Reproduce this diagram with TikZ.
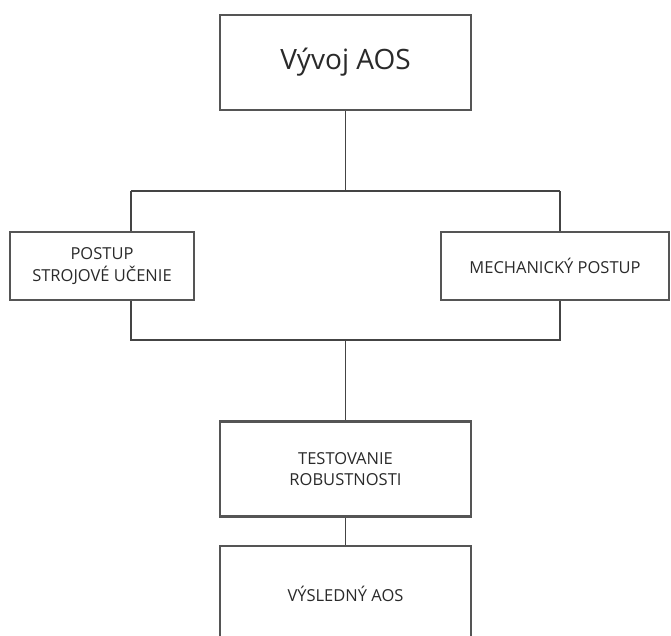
\documentclass[tikz,border=0pt]{standalone}
\usepackage{fontspec}
\setmainfont{Open Sans}
\definecolor{boxline}{HTML}{555555}
\definecolor{conn}{HTML}{444444}
\definecolor{txt}{HTML}{2A2A2A}
\begin{document}
\begin{tikzpicture}[x=1pt,y=-1pt,
  box/.style={draw=boxline,line width=2.2pt,fill=white,inner sep=0pt,align=center,text=txt},
  smalltext/.style={font=\fontsize{16.5}{21.5}\selectfont},
  link/.style={draw=conn,line width=1.6pt}]
\useasboundingbox (0,0) rectangle (671,635);
\clip (0,0) rectangle (671,635);
\fill[white] (0,0) rectangle (671,635);
\node[box,minimum width=251pt,minimum height=95pt,font=\fontsize{28}{32}\selectfont] (top) at (345.5,62.5) {Vývoj AOS};
\node[box,smalltext,minimum width=184pt,minimum height=68pt] (left) at (102,266) {POSTUP\\STROJOVÉ UČENIE};
\node[box,smalltext,minimum width=228pt,minimum height=68pt] (right) at (555,266) {MECHANICKÝ POSTUP};
\node[box,smalltext,minimum width=251pt,minimum height=95pt] (test) at (345.5,469) {TESTOVANIE\\ROBUSTNOSTI};
\node[box,smalltext,minimum width=251pt,minimum height=95pt,text depth=0pt] (res) at (345.5,593.5) {VÝSLEDNÝ AOS};
\coordinate (j1) at (345.5,191);
\coordinate (jl) at (131,191);
\coordinate (jr) at (560,191);
\coordinate (kl) at (131,340);
\coordinate (kr) at (560,340);
\coordinate (k1) at (345.5,340);
\draw[link] (top.south) -- (j1);
\draw[link] (jl) -- (jr);
\draw[link] (jl) -- (jl |- left.north);
\draw[link] (jr) -- (jr |- right.north);
\draw[link] (kl |- left.south) -- (kl) -- (kr) -- (kr |- right.south);
\draw[link] (k1) -- (test.north);
\draw[link] (test.south) -- (res.north);
\end{tikzpicture}
\end{document}
